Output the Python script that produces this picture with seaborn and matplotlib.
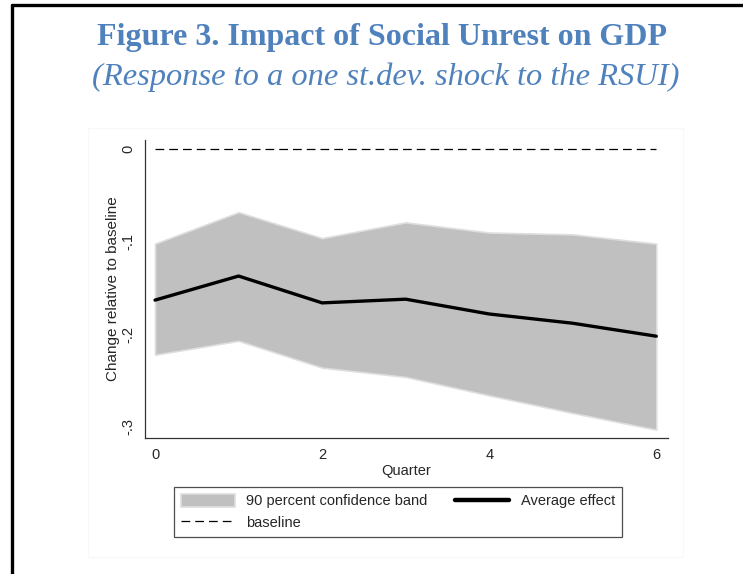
import matplotlib
matplotlib.use("Agg")
import matplotlib.pyplot as plt
import seaborn as sns
import pandas as pd
from matplotlib.patches import Patch, Rectangle
from matplotlib.lines import Line2D

# Impulse response of GDP to a one st.dev. shock to the RSUI
quarters = [0, 1, 2, 3, 4, 5, 6]
average_effect = [-0.163, -0.137, -0.166, -0.162, -0.178, -0.188, -0.202]
band_upper = [-0.102, -0.068, -0.096, -0.079, -0.090, -0.092, -0.102]
band_lower = [-0.222, -0.207, -0.236, -0.246, -0.266, -0.285, -0.303]
baseline = [0, 0, 0, 0, 0, 0, 0]

y_ticks = [0, -0.1, -0.2, -0.3]
y_tick_labels = ["0", "-.1", "-.2", "-.3"]
x_ticks = [0, 2, 4, 6]
x_tick_labels = ["0", "2", "4", "6"]

title_text = "Figure 3. Impact of Social Unrest on GDP"
subtitle_text = "(Response to a one st.dev. shock to the RSUI)"

sns.set_style("white")
plt.rcParams["font.family"] = ["Liberation Sans", "DejaVu Sans"]

df = pd.DataFrame({"quarter": quarters, "effect": average_effect,
                   "lo": band_lower, "hi": band_upper, "base": baseline})

fig = plt.figure(figsize=(7.43, 5.74), dpi=100)
fig.patch.set_facecolor("white")
ax = fig.add_axes([145 / 743, 1 - 438 / 574, 523 / 743, 298 / 574])

band_color = "#c0c0c0"
ax.fill_between(df["quarter"], df["lo"], df["hi"], facecolor=band_color,
                edgecolor="#dedede", linewidth=1.2, zorder=1)
sns.lineplot(data=df, x="quarter", y="effect", ax=ax, color="black",
             linewidth=2.4, zorder=3, legend=False)
sns.lineplot(data=df, x="quarter", y="base", ax=ax, color="black",
             linewidth=0.9, zorder=2, legend=False)
ax.lines[-1].set_dashes((7, 4))

ax.set_xlim(-0.12, 6.14)
ax.set_ylim(-0.312, 0.010)
ax.set_xticks(x_ticks)
ax.set_xticklabels(x_tick_labels)
ax.set_yticks(y_ticks)
ax.set_yticklabels(y_tick_labels, rotation=90, va="center")
ax.tick_params(axis="both", direction="out", length=4, width=0.8,
               color="#333333", labelsize=10.5, pad=3)
ax.set_xlabel("Quarter", fontsize=10.5, labelpad=2)
ax.set_ylabel("Change relative to baseline", fontsize=11, labelpad=1)
for side in ("top", "right"):
    ax.spines[side].set_visible(False)
for side in ("left", "bottom"):
    ax.spines[side].set_color("#333333")
    ax.spines[side].set_linewidth(0.9)

handles = [
    Patch(facecolor=band_color, edgecolor="#dedede", linewidth=1.2),
    Line2D([0], [0], color="black", linewidth=0.9, dashes=(7, 4)),
    Line2D([0], [0], color="black", linewidth=3.2),
]
labels = ["90 percent confidence band", "baseline", "Average effect"]
leg = fig.legend(handles, labels, ncol=2, loc="center",
                 bbox_to_anchor=(398 / 743, 1 - 512 / 574),
                 fontsize=10.5, frameon=True, fancybox=False, shadow=False,
                 handlelength=3.7, handleheight=1.0, columnspacing=1.9,
                 handletextpad=0.8, labelspacing=0.5, borderpad=0.45)
leg.get_frame().set_edgecolor("#222222")
leg.get_frame().set_linewidth(0.9)

# faint outline of the graph region
fig.add_artist(Rectangle((88 / 743, 1 - 557 / 574), (683 - 88) / 743,
                         (557 - 128) / 574, transform=fig.transFigure,
                         facecolor="none", edgecolor="#f8f8f8", linewidth=0.8))

# page frame lines
fig.add_artist(Line2D([11.7 / 743, 1], [1 - 5.3 / 574, 1 - 5.3 / 574],
                      transform=fig.transFigure, color="black", linewidth=2.4))
fig.add_artist(Line2D([11.7 / 743, 11.7 / 743], [0, 1 - 5.3 / 574],
                      transform=fig.transFigure, color="black", linewidth=2.4))

title_color = "#4f81bd"
fig.text(382 / 743, 1 - 37 / 574, title_text, ha="center", va="center",
         fontsize=23, fontweight="bold", color=title_color,
         family=["Liberation Serif", "DejaVu Serif"])
fig.text(386 / 743, 1 - 77 / 574, subtitle_text, ha="center", va="center",
         fontsize=23.4, fontstyle="italic", color=title_color,
         family=["Liberation Serif", "DejaVu Serif"])

fig.savefig("out.png", dpi=100, facecolor="white")
